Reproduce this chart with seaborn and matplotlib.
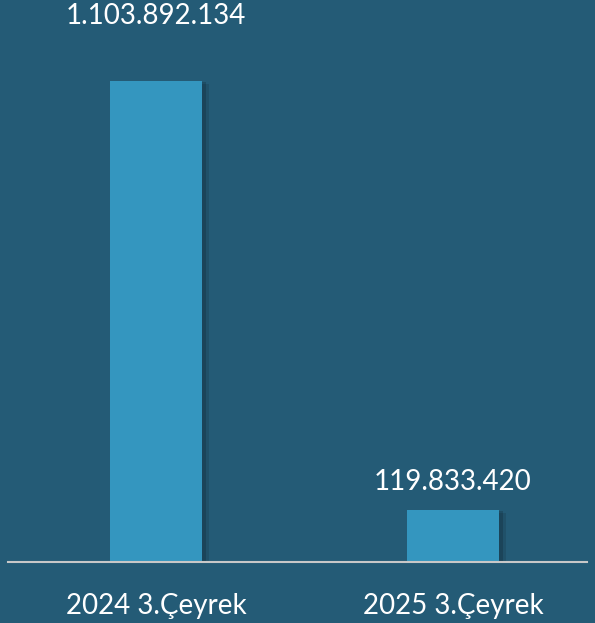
import matplotlib
matplotlib.use("Agg")
import matplotlib.pyplot as plt
import matplotlib.patheffects as pe
import pandas as pd
import seaborn as sns

# chart values
periods = ["2024 3.Çeyrek", "2025 3.Çeyrek"]
values = [1103892134, 119833420]
value_labels = ["1.103.892.134", "119.833.420"]

bg = "#245b76"
bar_color = "#3496bf"

df = pd.DataFrame({"period": periods, "value": values})

sns.set_theme(style="white")
plt.rcParams["font.family"] = ["Lato", "DejaVu Sans"]

fig = plt.figure(figsize=(5.95, 6.23), dpi=100, facecolor=bg)
ax = fig.add_axes([8 / 595, 61 / 623, 579 / 595, 562 / 623])
ax.set_facecolor(bg)

sns.barplot(data=df, x="period", y="value", color=bar_color, width=0.31,
            saturation=1, linewidth=0, edgecolor=bar_color, ax=ax)

# soft drop shadow to the right of the bars
for p in ax.patches:
    p.set_path_effects([pe.SimplePatchShadow(offset=(5, -2), shadow_rgbFace="black", alpha=0.1),
                        pe.SimplePatchShadow(offset=(3, -1), shadow_rgbFace="black", alpha=0.15),
                        pe.Normal()])

ax.set_xlim(-0.498, 1.451)
ax.set_ylim(0, 1.2898e9)

# value labels above the bars
offsets = [52, 15]
for i, (v, lab) in enumerate(zip(values, value_labels)):
    ax.annotate(lab, (i, v), xytext=(0, offsets[i]), textcoords="offset pixels",
                ha="center", va="bottom", color="white", fontsize=20)

ax.set_xlabel("")
ax.set_ylabel("")
ax.set_yticks([])
ax.tick_params(axis="x", length=0, pad=22, labelsize=20, labelcolor="white")
for s in ["top", "right", "left"]:
    ax.spines[s].set_visible(False)
ax.spines["bottom"].set_color("#c8c8c8")
ax.spines["bottom"].set_linewidth(1.5)

fig.savefig("out.png", dpi=100, facecolor=bg)
